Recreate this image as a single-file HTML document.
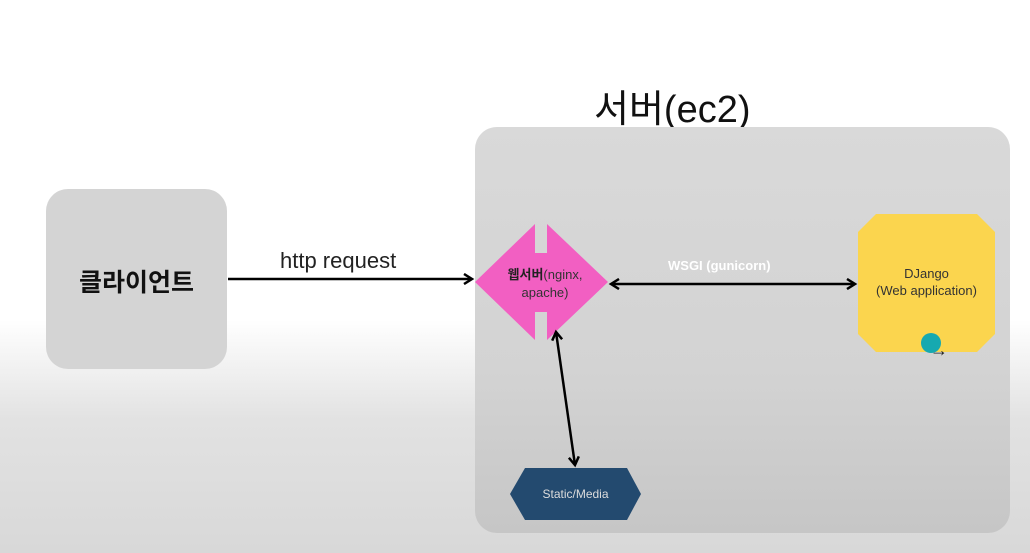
<!DOCTYPE html>
<html><head><meta charset="utf-8"><style>
body{margin:0;width:1030px;height:553px;overflow:hidden;background:linear-gradient(#fff 0,#fff 320px,#e2e2e2 420px,#d8d8d8 553px);font-family:"Liberation Sans","Noto Sans CJK KR",sans-serif;position:relative}
.a{position:absolute}
</style></head><body>
<div class="a" style="left:594px;top:78px;font-size:38px;color:#111">서버(ec2)</div>
<div class="a" style="left:475px;top:127px;width:535px;height:406px;border-radius:22px;background:linear-gradient(#d9d9d9,#d3d3d3 60%,#c6c6c6)"></div>
<div class="a" style="left:46px;top:189px;width:181px;height:180px;border-radius:22px;background:#d4d4d4"></div>
<div class="a" style="left:46px;top:263px;width:181px;text-align:center;font-size:25px;font-weight:bold;color:#111">클라이언트</div>
<div class="a" style="left:280px;top:248px;font-size:22px;color:#222">http request</div>
<div class="a" style="left:668px;top:258px;font-size:13px;font-weight:bold;color:#fff">WSGI (gunicorn)</div>
<svg class="a" style="left:0;top:0" width="1030" height="553">
<defs><marker id="m" markerWidth="12" markerHeight="12" refX="9" refY="6" orient="auto-start-reverse" markerUnits="userSpaceOnUse"><path d="M1,1 L9,6 L1,11" fill="none" stroke="#000" stroke-width="2.5"/></marker></defs>
<polygon points="535,224 535,253 547,253 547,224 608,282 547,340 547,312 535,312 535,340 475,282" fill="#f25fc2"/>
<polygon points="876,214 977,214 995,232 995,334 977,352 876,352 858,334 858,232" fill="#fbd54e"/>
<polygon points="525,468 627,468 641,494 627,520 525,520 510,494" fill="#234a6f"/>
<line x1="228" y1="279" x2="472" y2="279" stroke="#000" stroke-width="2.5" marker-end="url(#m)"/>
<line x1="611" y1="284" x2="855" y2="284" stroke="#000" stroke-width="2.5" marker-start="url(#m)" marker-end="url(#m)"/>
<line x1="556" y1="332" x2="575" y2="465" stroke="#000" stroke-width="2.5" marker-start="url(#m)" marker-end="url(#m)"/>
<circle cx="931" cy="343" r="10" fill="#16a9b0"/>
<text x="939" y="356" font-size="18" text-anchor="middle" fill="#222">→</text>
</svg>
<div class="a" style="left:495px;top:266px;width:100px;text-align:center;font-size:13px;color:#333;line-height:18px"><b style="color:#222">웹서버</b>(nginx,<br>apache)</div>
<div class="a" style="left:858px;top:265px;width:137px;text-align:center;font-size:13px;color:#333;line-height:17px">DJango<br>(Web application)</div>
<div class="a" style="left:510px;top:487px;width:131px;text-align:center;font-size:12px;color:#ddd">Static/Media</div>
</body></html>
